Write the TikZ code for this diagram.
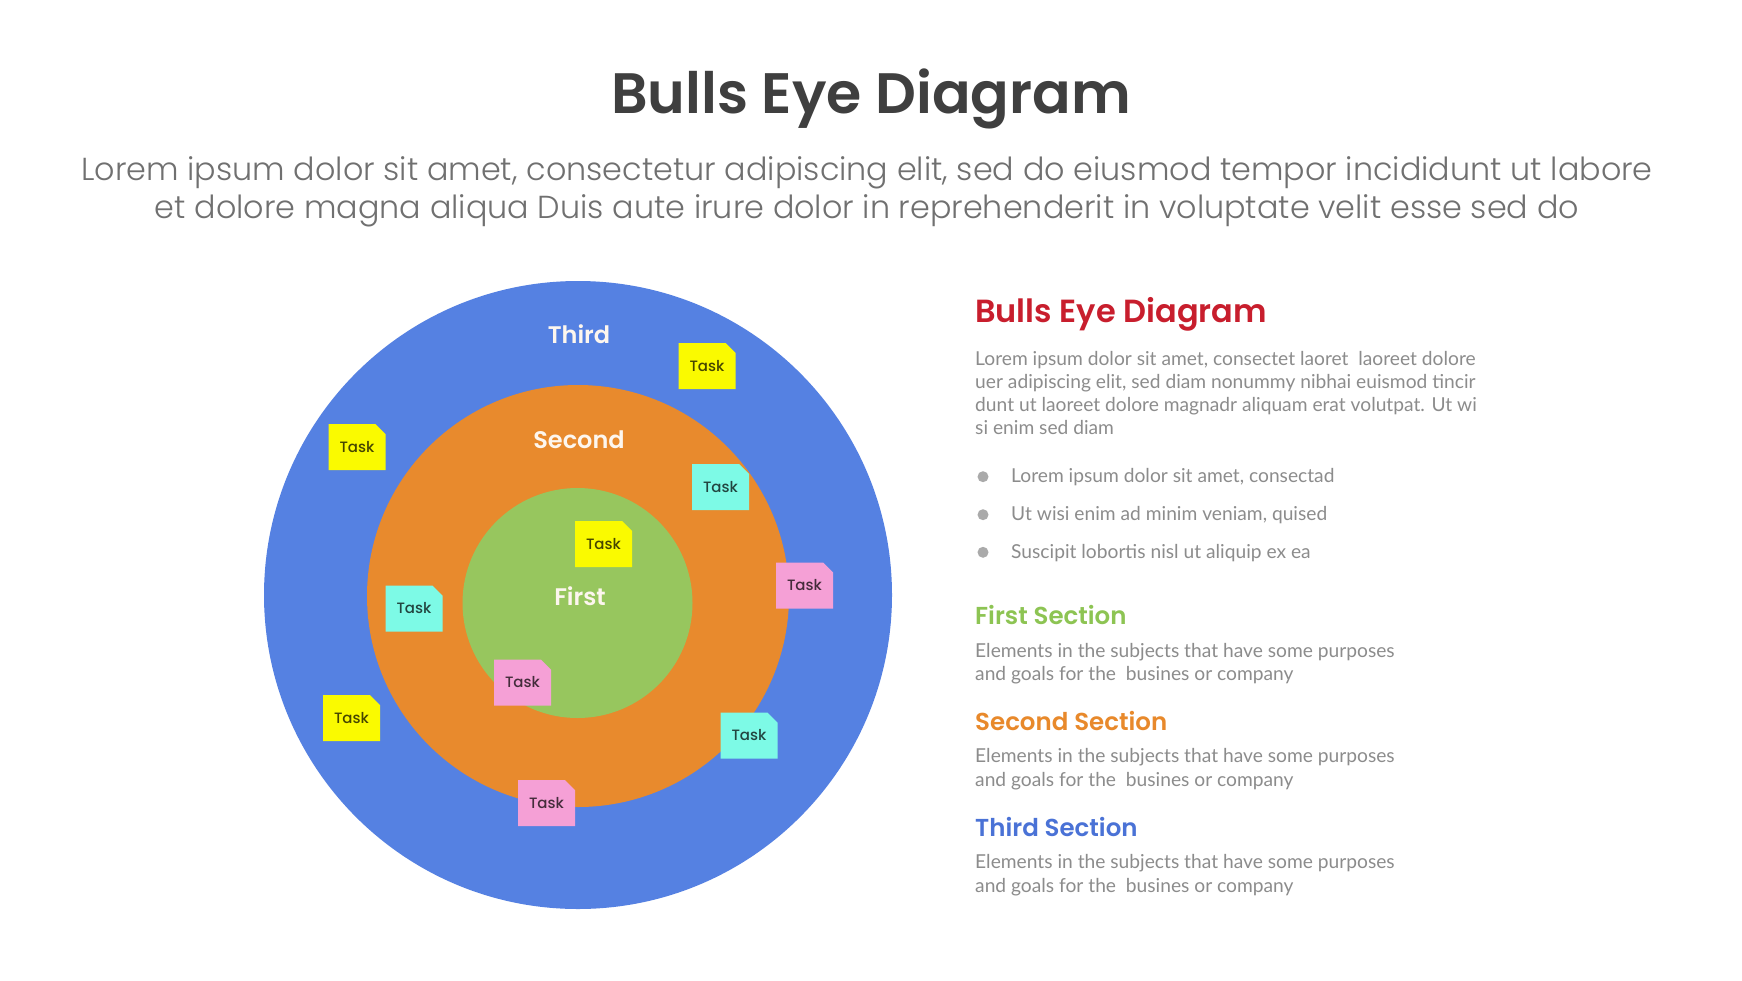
\documentclass[tikz,border=0pt]{standalone}
\usepackage{fontspec}
\setmainfont{Poppins}
\newfontfamily\popfont{Poppins}
\IfFontExistsTF{Poppins SemiBold}{\newfontfamily\popsemi{Poppins SemiBold}}{\newcommand\popsemi{\popfont\bfseries}}
\IfFontExistsTF{Poppins Light}{\newfontfamily\poplight{Poppins Light}}{\newcommand\poplight{\popfont}}
\IfFontExistsTF{Poppins Medium}{\newfontfamily\popmed{Poppins Medium}}{\newcommand\popmed{\popfont}}
\newfontfamily\latofont{Lato}
\definecolor{ringblue}{RGB}{85,129,226}
\definecolor{ringorange}{RGB}{232,138,45}
\definecolor{ringgreen}{RGB}{151,198,94}
\definecolor{noteyellow}{RGB}{250,250,0}
\definecolor{notecyan}{RGB}{125,250,230}
\definecolor{notepink}{RGB}{245,160,214}
\definecolor{labelwhite}{RGB}{253,246,238}
\definecolor{titlegray}{RGB}{63,63,63}
\definecolor{subgray}{RGB}{112,112,112}
\definecolor{bodygray}{RGB}{140,140,140}
\definecolor{bulletgray}{RGB}{170,170,170}
\definecolor{headred}{RGB}{200,30,45}
\definecolor{headgreen}{RGB}{141,196,83}
\definecolor{headorange}{RGB}{232,137,43}
\definecolor{headblue}{RGB}{74,114,214}
\newcommand\tasknote[4]{%
  \fill[#4] (#2-28.5,#3-23) -- (#2+18.5,#3-23) -- (#2+28.5,#3-13) -- (#2+28.5,#3+23) -- (#2-28.5,#3+23) -- cycle;
  \node[tasktext] (#1) at (#2,#3) {Task};}
\begin{document}
\begin{tikzpicture}[x=1pt,y=-1pt,
  ring/.style={circle, inner sep=0pt, draw=none},
  ringlabel/.style={font=\popsemi\fontsize{24}{28}\selectfont, text=labelwhite, inner sep=0pt},
  tasktext/.style={font=\popmed\fontsize{15}{18}\selectfont, text=black, text opacity=0.72, inner sep=0pt},
  heading/.style={anchor=base west, inner sep=0pt, font=\popsemi\fontsize{24.5}{28}\selectfont},
  bodyline/.style={anchor=base west, inner sep=0pt, font=\latofont\fontsize{19.2}{23}\selectfont, text=bodygray},
  subline/.style={anchor=base, inner sep=0pt, font=\poplight\fontsize{31.8}{36}\selectfont, text=subgray},
  bulletdot/.style={circle, fill=bulletgray, minimum size=11pt, inner sep=0pt},
]
\path[use as bounding box, fill=white] (0,0) rectangle (1742,980);

% header
\node[anchor=base, inner sep=0pt, font=\popsemi\fontsize{57}{64}\selectfont, text=titlegray] (title) at (871,113.5) {Bulls Eye Diagram};
\node[subline] (sub1) at (867,180) {Lorem ipsum dolor sit amet, consectetur adipiscing elit, sed do eiusmod tempor incididunt ut labore};
\node[subline] (sub2) at (867,218) {et dolore magna aliqua Duis aute irure dolor in reprehenderit in voluptate velit esse sed do};

% bulls eye
\node[ring, fill=ringblue, minimum size=628pt] (outer) at (578,595) {};
\node[ring, fill=ringorange, minimum size=422pt] (middle) at (578,596) {};
\node[ring, fill=ringgreen, minimum size=230pt] (inner) at (577.5,603) {};
\node[ringlabel] (lthird) at (579,334.5) {Third};
\node[ringlabel] (lsecond) at (579,440) {Second};
\node[ringlabel] (lfirst) at (580,596) {First};

% sticky notes
\tasknote{t1}{707}{366}{noteyellow}
\tasknote{t2}{357}{447}{noteyellow}
\tasknote{t3}{720.5}{487}{notecyan}
\tasknote{t4}{603.5}{544}{noteyellow}
\tasknote{t5}{804.5}{585.5}{notepink}
\tasknote{t6}{414}{608.5}{notecyan}
\tasknote{t7}{522.5}{682.5}{notepink}
\tasknote{t8}{351.5}{718}{noteyellow}
\tasknote{t9}{749}{735.5}{notecyan}
\tasknote{t10}{546.5}{803}{notepink}

% right panel
\node[anchor=base west, inner sep=0pt, font=\popsemi\fontsize{32}{36}\selectfont, text=headred] (rtitle) at (975,322.7) {Bulls Eye Diagram};
\node[bodyline] (p1) at (975,365) {Lorem ipsum dolor sit amet, consectet laoret~ laoreet dolore};
\node[bodyline] (p2) at (975,388.2) {uer adipiscing elit, sed diam nonummy nibhai euismod tincir};
\node[bodyline] (p3) at (975,411.4) {dunt ut laoreet dolore magnadr aliquam erat volutpat. Ut wi};
\node[bodyline] (p4) at (975,434.6) {si enim sed diam};

\node[bulletdot] (b1) at (983,476.7) {};
\node[bulletdot] (b2) at (983,514.7) {};
\node[bulletdot] (b3) at (983,552.3) {};
\node[bodyline] (bt1) at (1011,482.7) {Lorem ipsum dolor sit amet, consectad};
\node[bodyline] (bt2) at (1011,520.7) {Ut wisi enim ad minim veniam, quised};
\node[bodyline] (bt3) at (1011,558.3) {Suscipit lobortis nisl ut aliquip ex ea};

\node[heading, text=headgreen] (h1) at (975,624) {First Section};
\node[bodyline] (d1a) at (975,657) {Elements in the subjects that have some purposes};
\node[bodyline] (d1b) at (975,680.5) {and goals for the~ busines or company};

\node[heading, text=headorange] (h2) at (975,730) {Second Section};
\node[bodyline] (d2a) at (975,762) {Elements in the subjects that have some purposes};
\node[bodyline] (d2b) at (975,786) {and goals for the~ busines or company};

\node[heading, text=headblue] (h3) at (975,836) {Third Section};
\node[bodyline] (d3a) at (975,868) {Elements in the subjects that have some purposes};
\node[bodyline] (d3b) at (975,892) {and goals for the~ busines or company};
\end{tikzpicture}
\end{document}
